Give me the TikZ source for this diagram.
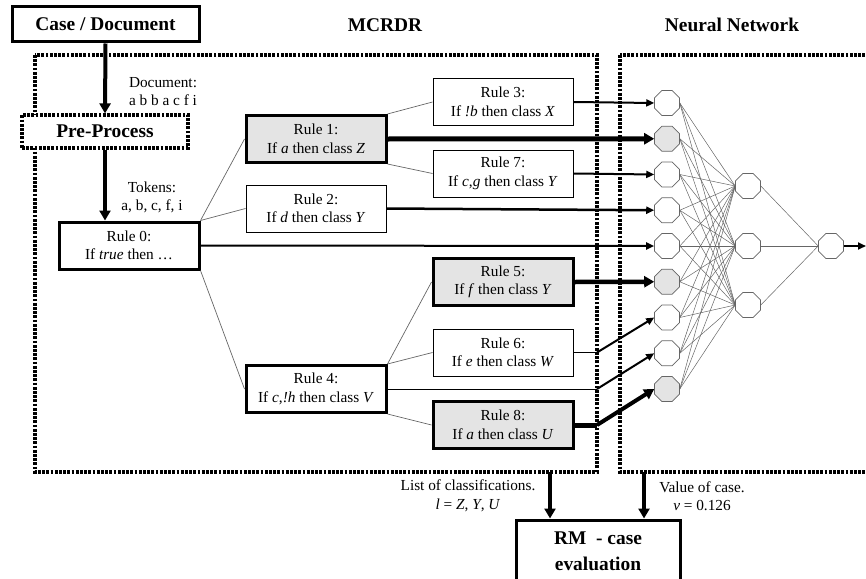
\documentclass[tikz,border=0pt]{standalone}
\usepackage{fontspec}
\setmainfont{Liberation Serif}
\usetikzlibrary{arrows.meta,shapes.geometric}
\definecolor{hitgray}{HTML}{E4E4E4}
\definecolor{edgegray}{HTML}{666666}
\begin{document}
\begin{tikzpicture}[x=1pt,y=-1pt,
  txt/.style={font=\fontsize{15.3}{18.5}\selectfont, align=center, inner sep=0pt},
  ttl/.style={font=\fontsize{19.4}{22}\selectfont\bfseries, inner sep=0pt},
  rulebox/.style={draw, line width=1pt, fill=white, minimum width=140pt, minimum height=47pt,
    inner sep=0pt, align=center, font=\fontsize{15.3}{18.5}\selectfont},
  strongbox/.style={rulebox, line width=3pt},
  hitbox/.style={strongbox, fill=hitgray},
  dotbox/.style={line width=3.2pt, dash pattern=on 2.8pt off 1.4pt},
  neuron/.style={regular polygon, regular polygon sides=8, draw=edgegray, line width=0.6pt,
    fill=white, minimum size=27pt, inner sep=0pt},
  hitneuron/.style={neuron, fill=hitgray},
  tree/.style={draw=edgegray, line width=0.7pt},
  net/.style={draw=edgegray, line width=0.5pt},
  feed/.style={line width=#1, -{Triangle[length=8pt,width=7pt]}},
  bigfeed/.style={line width=#1, -{Triangle[length=10pt,width=11pt]}},
  flow/.style={line width=4pt, -{Triangle[length=10pt,width=11pt]}}
]
\useasboundingbox (0,0) rectangle (866,578);
\clip (0,0) rectangle (866,578);

% dotted frames
\draw[dotbox] (35,55) rectangle (597,472);
\draw[dotbox] (620,55) rectangle (880,472);

% titles
\node[ttl] (tmcrdr) at (385,25) {MCRDR};
\node[ttl] (tnn) at (732,25) {Neural Network};

% case / preprocess
\node[draw, line width=3pt, fill=white, minimum width=187pt, minimum height=35pt, ttl] (case) at (105.5,24.5) {Case / Document};
\node[draw, dotbox, fill=white, minimum width=166pt, minimum height=33pt, ttl] (pre) at (105,131.5) {Pre-Process};
\node[txt] (doc) at (163,91.5) {Document:\\a b b a c f i};
\node[txt] (tok) at (152,197.5) {Tokens:\\a, b, c, f, i};

% rule boxes
\node[strongbox] (r0) at (129,245.5) {Rule 0:\\If \textit{true} then …};
\node[hitbox] (r1) at (316,139) {Rule 1:\\If \textit{a} then class \textit{Z}};
\node[rulebox] (r2) at (316,208.5) {Rule 2:\\If \textit{d} then class \textit{Y}};
\node[strongbox] (r4) at (316,389) {Rule 4:\\If \textit{c},\textit{!h} then class \textit{V}};
\node[rulebox] (r3) at (503,102) {Rule 3:\\If \textit{!b} then class \textit{X}};
\node[rulebox] (r7) at (503,173.5) {Rule 7:\\If \textit{c},\textit{g} then class \textit{Y}};
\node[hitbox] (r5) at (503,282) {Rule 5:\\If \textit{f} then class \textit{Y}};
\node[rulebox] (r6) at (503,352.5) {Rule 6:\\If \textit{e} then class \textit{W}};
\node[hitbox] (r8) at (503,425) {Rule 8:\\If \textit{a} then class \textit{U}};

% neurons
\node[neuron] (i1) at (667,103) {};
\node[hitneuron] (i2) at (667,138.75) {};
\node[neuron] (i3) at (667,174.5) {};
\node[neuron] (i4) at (667,210.25) {};
\node[neuron] (i5) at (667,246) {};
\node[hitneuron] (i6) at (667,281.75) {};
\node[neuron] (i7) at (667,317.5) {};
\node[neuron] (i8) at (667,353.25) {};
\node[hitneuron] (i9) at (667,389) {};
\node[neuron] (h1) at (748,186) {};
\node[neuron] (h2) at (748,246) {};
\node[neuron] (h3) at (748,305) {};
\node[neuron] (o) at (831,246) {};
\coordinate (oend) at (866,246);

\foreach \i in {1,...,9}{
  \foreach \h in {1,2,3}{
    \draw[net] (i\i.east) -- (h\h.west);
  }
}
\foreach \h in {1,2,3}{ \draw[net] (h\h.east) -- (o.west); }

% tree edges
\draw[tree] (r0.north east) -- (r1.west);
\draw[tree] (r0.north east) -- (r2.west);
\draw[tree] (r0.south east) -- (r4.west);
\draw[tree] (r1.north east) -- (r3.west);
\draw[tree] (r1.south east) -- (r7.west);
\draw[tree] (r4.north east) -- (r5.west);
\draw[tree] (r4.north east) -- (r6.west);
\draw[tree] (r4.south east) -- (r8.west);

% feeds into network
\coordinate (b6) at (597,352.5);
\coordinate (b4) at (597,389);
\coordinate (b8) at (597,425);
\draw[feed=2pt] (r3.east) -- (i1.west);
\draw[bigfeed=5pt] (r1.east) -- (i2.west);
\draw[feed=2pt] (r7.east) -- (i3.west);
\draw[feed=2.5pt] (r2.east) -- (i4.west);
\draw[feed=2pt] (r0.east) -- (i5.west);
\draw[bigfeed=4.5pt] (r5.east) -- (i6.west);
\draw[line width=1pt] (r6.east) -- (b6);
\draw[feed=2pt] (b6) -- (i7.west);
\draw[line width=1pt] (r4.east) -- (b4);
\draw[feed=2pt] (b4) -- (i8.west);
\draw[line width=5pt] (r8.east) -- (b8);
\draw[bigfeed=4pt] (b8) -- (i9.west);
\draw[feed=2pt] (o.east) -- (oend);

% case flow
\draw[flow] (case.south) -- (pre.north);
\draw[flow] (pre.south) -- (pre.south |- r0.north);

% outputs
\node[draw, line width=3pt, minimum width=164pt, minimum height=62pt, align=center,
  font=\fontsize{19.4}{26}\selectfont\bfseries, inner sep=0pt] (rm) at (598,551) {RM\ \ - case\\evaluation};
\coordinate (lc) at (550,472);
\coordinate (vc) at (644,472);
\draw[flow] (lc) -- (rm.north -| lc);
\draw[flow] (vc) -- (rm.north -| vc);
\node[txt] (llist) at (468,496) {List of classifications.\\\textit{l} = \textit{Z}, \textit{Y}, \textit{U}};
\node[txt] (lval) at (702,496) {Value of case.\\\textit{v} = 0.126};
\end{tikzpicture}
\end{document}
